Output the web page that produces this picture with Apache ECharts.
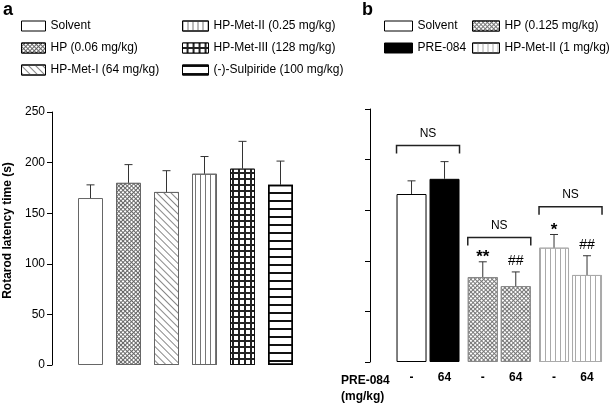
<!DOCTYPE html>
<html><head><meta charset="utf-8">
<script src="https://cdn.jsdelivr.net/npm/echarts@6/dist/echarts.min.js"></script>
<style>html,body{margin:0;padding:0;background:#fff}#c{width:609px;height:405px}</style>
</head><body><div id="c"></div>
<script>
// ---------- data ----------
const leftNames = ['Solvent','HP (0.06 mg/kg)','HP-Met-I (64 mg/kg)','HP-Met-II (0.25 mg/kg)','HP-Met-III (128 mg/kg)','(-)-Sulpiride (100 mg/kg)'];
const leftMeans = [165, 180, 171, 189, 194, 178];
const leftSEM   = [13, 18, 21, 17, 27, 23.5];

const rightGroups = ['Solvent/PRE', 'HP', 'HP-Met-II'];
const rightNames = ['Solvent','PRE-084','HP (0.125 mg/kg)','HP-Met-II (1 mg/kg)'];
const rightNoPre   = [166, 84, 113];   // PRE-084 "-"
const rightNoPreSEM= [13, 15, 13];
const rightPre     = [181, 75, 86];    // PRE-084 64 mg/kg
const rightPreSEM  = [17, 14, 19];
const doseLabels = ['-', '64'];
const yTicks = [0, 50, 100, 150, 200, 250];
const nsLevels = [214, 123, 153.5];
const marks = [ // [group, side(0 = '-', 1 = '64'), text]
  [1, 0, '**'], [1, 1, '##'], [2, 0, '*'], [2, 1, '##']
];

// ---------- styles ----------
const FONT = 'Liberation Sans, Arial, sans-serif';
const BW_R = 30, GAP_R = 3;
const OFF_R = (BW_R + GAP_R) / 2;
const crossDecal = {symbol:'rect', symbolSize:1, dashArrayX:[1.6,0.9], dashArrayY:[1.6,0.9], rotation:Math.PI/4, color:'#fff'};
const styles = {
  solventL: {color:'#fff', borderColor:'#666', borderWidth:1},
  hpL: {color:'#666', borderColor:'#666', borderWidth:1, decal: crossDecal},
  met1: {color:'#fff', borderColor:'#666', borderWidth:1, decal:{symbol:'rect', symbolSize:1, dashArrayX:[1,0], dashArrayY:[1,4], rotation:Math.PI/4, color:'#888'}},
  met2: {color:'#fff', borderColor:'#666', borderWidth:1, decal:{symbol:'rect', symbolSize:1, dashArrayX:[1,3.2], dashArrayY:[1,0], color:'#777'}},
  met3: {color:'#222', borderColor:'#111', borderWidth:1, decal:{symbol:'rect', symbolSize:1, dashArrayX:[4,1.2], dashArrayY:[4,1.2], color:'#fff'}},
  sulp: {color:'#fff', borderColor:'#000', borderWidth:1.5, decal:{symbol:'rect', symbolSize:1, dashArrayX:[1,0], dashArrayY:[1.2,5.6], color:'#111'}},
  solventR: {color:'#fff', borderColor:'#000', borderWidth:1},
  pre: {color:'#000', borderColor:'#000', borderWidth:1},
  hpR: {color:'#777', borderColor:'#888', borderWidth:1, decal: crossDecal},
  met2R: {color:'#fff', borderColor:'#aaa', borderWidth:1, decal:{symbol:'rect', symbolSize:1, dashArrayX:[1,3.2], dashArrayY:[1,0], color:'#aaa'}}
};
const leftStyles = [styles.solventL, styles.hpL, styles.met1, styles.met2, styles.met3, styles.sulp];

// ---------- series ----------
const series = [];
leftNames.forEach((n, i) => {
  series.push({
    type:'bar', name:n, xAxisIndex:0, yAxisIndex:0, stack:'leftPanel', barWidth:25,
    itemStyle: leftStyles[i],
    data: leftMeans.map((v, j) => j === i ? v : '-')
  });
});
function only(arr, k){ return arr.map((v, j) => j === k ? v : '-'); }
const rStack = [
  {name:rightNames[0], g:0, side:0, st:styles.solventR},
  {name:rightNames[1], g:0, side:1, st:styles.pre},
  {name:rightNames[2], g:1, side:0, st:styles.hpR},
  {name:rightNames[2], g:1, side:1, st:styles.hpR},
  {name:rightNames[3], g:2, side:0, st:styles.met2R},
  {name:rightNames[3], g:2, side:1, st:styles.met2R}
];
rStack.forEach(r => {
  series.push({
    type:'bar', name:r.name, xAxisIndex:1, yAxisIndex:1, stack: r.side ? 'rightPre' : 'rightNoPre',
    barWidth:BW_R, barGap:(GAP_R / BW_R * 100) + '%',
    itemStyle: r.st,
    label:{show:true, position:'bottom', distance:10, formatter: doseLabels[r.side],
           fontFamily:FONT, fontSize:12, fontWeight:'bold', color:'#000'},
    data: only(r.side ? rightPre : rightNoPre, r.g)
  });
});

const errStyle = {stroke:'#333', lineWidth:1};
function errRender(off){
  return function(params, api){
    const x = api.value(0), m = api.value(1), s = api.value(2), side = api.value(3);
    const b = api.coord([x, m]), t = api.coord([x, m + s]);
    const cx = b[0] + (off ? (side ? off : -off) : 0);
    return {type:'group', children:[
      {type:'line', shape:{x1:cx, y1:b[1], x2:cx, y2:t[1]}, style:errStyle},
      {type:'line', shape:{x1:cx-4, y1:t[1], x2:cx+4, y2:t[1]}, style:errStyle}
    ]};
  };
}
series.push({type:'custom', xAxisIndex:0, yAxisIndex:0, z:5, silent:true,
  renderItem: errRender(0),
  data: leftMeans.map((m, i) => [i, m, leftSEM[i], 0])});
const rErr = [];
rightGroups.forEach((g, i) => {
  rErr.push([i, rightNoPre[i], rightNoPreSEM[i], 0]);
  rErr.push([i, rightPre[i], rightPreSEM[i], 1]);
});
series.push({type:'custom', xAxisIndex:1, yAxisIndex:1, z:5, silent:true,
  renderItem: errRender(OFF_R), data: rErr});

// NS brackets
series.push({type:'custom', xAxisIndex:1, yAxisIndex:1, z:5, silent:true,
  renderItem: function(params, api){
    const p = api.coord([api.value(0), api.value(1)]);
    const half = OFF_R + BW_R / 2;
    return {type:'group', children:[
      {type:'polyline', shape:{points:[[p[0]-half, p[1]+8],[p[0]-half, p[1]],[p[0]+half, p[1]],[p[0]+half, p[1]+8]]}, style:{stroke:'#222', lineWidth:1.5, fill:null}},
      {type:'text', x:p[0], y:p[1]-6, style:{text:'NS', fontFamily:FONT, fontSize:12, fill:'#000', align:'center', verticalAlign:'bottom'}}
    ]};
  },
  data: nsLevels.map((v, i) => [i, v])});

// significance marks
series.push({type:'custom', xAxisIndex:1, yAxisIndex:1, z:5, silent:true,
  renderItem: function(params, api){
    const g = api.value(0), side = api.value(1), top = api.value(2);
    const p = api.coord([g, top]);
    const txt = marks[params.dataIndex][2];
    const star = txt.indexOf('*') >= 0;
    return {type:'text', x:p[0] + (side ? OFF_R : -OFF_R), y:p[1] - (star ? -4 : 4),
      style:{text:txt, fontFamily:FONT, fontSize: star ? 17 : 14, fontWeight: star ? 'bold' : 'normal', fill:'#000', align:'center', verticalAlign:'bottom'}};
  },
  data: marks.map(m => [m[0], m[1], (m[1] ? rightPre[m[0]] + rightPreSEM[m[0]] : rightNoPre[m[0]] + rightNoPreSEM[m[0]])])});

const yAxisBase = {type:'value', min:yTicks[0], max:yTicks[yTicks.length-1], interval:yTicks[1]-yTicks[0],
  axisLine:{show:true, lineStyle:{color:'#000', width:1}},
  axisTick:{show:true, length:5, lineStyle:{color:'#000'}},
  splitLine:{show:false}};

const legText = {fontFamily:FONT, fontSize:12, color:'#000'};
const legBase = {orient:'vertical', padding:0, itemWidth:24, itemHeight:10, itemGap:10, icon:'rect', textStyle:legText, selectedMode:false,
  itemStyle:{borderColor:'#000', borderWidth:1}};

const option = {
  animation:false,
  textStyle:{fontFamily:FONT},
  grid:[
    {left:71.5, width:228, top:112, bottom:40},
    {left:392.4, width:213.75, top:109, bottom:43}
  ],
  xAxis:[
    {type:'category', gridIndex:0, data:leftNames, show:false},
    {type:'category', gridIndex:1, data:rightGroups, show:false}
  ],
  yAxis:[
    Object.assign({}, yAxisBase, {gridIndex:0, offset:19.5,
      axisLabel:{fontFamily:FONT, fontSize:12, color:'#000', margin:7},
      name:'Rotarod latency time (s)', nameLocation:'middle', nameGap:38,
      nameTextStyle:{fontFamily:FONT, fontSize:12, fontWeight:'bold', color:'#000', padding:[0,0,0,16]}}),
    Object.assign({}, yAxisBase, {gridIndex:1, offset:22.4, axisLabel:{show:false}})
  ],
  legend:[
    Object.assign({}, legBase, {left:21, top:20, data:leftNames.slice(0,3)}),
    Object.assign({}, legBase, {left:182, top:20, itemWidth:26, data:leftNames.slice(3,6)}),
    Object.assign({}, legBase, {left:384, top:20, itemWidth:28, data:rightNames.slice(0,2)}),
    Object.assign({}, legBase, {left:472, top:20, itemWidth:27, data:rightNames.slice(2,4)})
  ],
  graphic:[
    {type:'text', left:3, top:1, style:{text:'a', fontFamily:FONT, fontSize:18, fontWeight:'bold', fill:'#000'}},
    {type:'text', left:362, top:1, style:{text:'b', fontFamily:FONT, fontSize:18, fontWeight:'bold', fill:'#000'}},
    {type:'text', left:341, top:375, style:{text:'PRE-084', fontFamily:FONT, fontSize:12, fontWeight:'bold', fill:'#000'}},
    {type:'text', left:341, top:391, style:{text:'(mg/kg)', fontFamily:FONT, fontSize:12, fontWeight:'bold', fill:'#000'}}
  ],
  series: series
};
const chart = echarts.init(document.getElementById('c'), null, {renderer:'canvas'});
chart.setOption(option);
</script></body></html>
